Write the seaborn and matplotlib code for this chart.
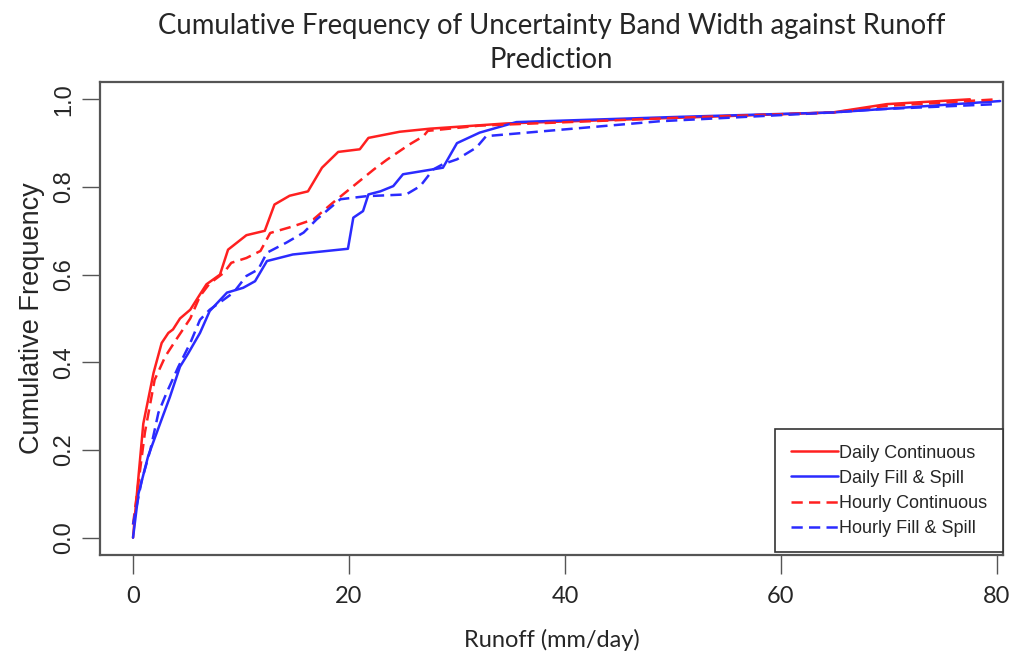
import numpy as np
import pandas as pd
import matplotlib
matplotlib.use("Agg")
import matplotlib.pyplot as plt
import seaborn as sns

# ---- data ----
dc_x = [0, 0.2, 0.95, 1.9, 2.65, 3.27, 3.7, 4.35, 5.3, 6.2, 6.8, 8.05, 8.8, 10.5, 12.2, 13.1, 14.5, 16.2, 17.5, 19.0, 21.0, 21.8, 24.7, 27.5, 34.6, 50.6, 64.8, 69.8, 77.5]
dc_y = [0, 0.057, 0.26, 0.376, 0.444, 0.467, 0.475, 0.50, 0.52, 0.555, 0.578, 0.60, 0.657, 0.69, 0.70, 0.76, 0.78, 0.79, 0.844, 0.88, 0.886, 0.912, 0.926, 0.933, 0.945, 0.958, 0.970, 0.989, 1.0]

dfs_x = [0, 0.5, 1.4, 2.65, 3.4, 4.35, 5.1, 6.2, 7.1, 8.7, 10.2, 11.3, 12.4, 14.8, 19.9, 20.4, 21.3, 21.8, 22.9, 24.1, 25.0, 28.7, 30.0, 32.1, 35.5, 50.6, 64.8, 80.3]
dfs_y = [0, 0.10, 0.186, 0.27, 0.32, 0.39, 0.42, 0.467, 0.517, 0.559, 0.57, 0.585, 0.631, 0.646, 0.659, 0.73, 0.745, 0.783, 0.79, 0.802, 0.829, 0.844, 0.90, 0.924, 0.948, 0.960, 0.970, 0.996]

hc_x = [0, 1.1, 2.0, 3.0, 4.0, 5.3, 6.2, 7.1, 8.4, 9.1, 10.5, 11.8, 12.7, 14.8, 16.7, 18.5, 20.4, 22.3, 23.5, 25.6, 26.9, 27.3, 32.1, 50.6, 64.8, 69.8, 80.0]
hc_y = [0.03, 0.24, 0.36, 0.414, 0.452, 0.50, 0.551, 0.58, 0.604, 0.627, 0.638, 0.654, 0.695, 0.71, 0.726, 0.764, 0.802, 0.84, 0.862, 0.897, 0.916, 0.928, 0.94, 0.958, 0.970, 0.985, 1.0]

hfs_x = [0, 0.8, 1.6, 2.35, 3.1, 4.2, 5.3, 6.2, 7.1, 8.4, 9.3, 10.5, 11.6, 12.4, 14.2, 15.8, 17.0, 19.2, 21.6, 25.3, 26.6, 27.8, 28.7, 30.0, 31.8, 32.7, 48.8, 64.8, 68.8, 80.0]
hfs_y = [0.03, 0.13, 0.20, 0.285, 0.33, 0.39, 0.444, 0.497, 0.52, 0.543, 0.559, 0.597, 0.612, 0.65, 0.673, 0.696, 0.726, 0.772, 0.779, 0.783, 0.802, 0.84, 0.852, 0.863, 0.89, 0.916, 0.95, 0.97, 0.977, 0.989]

series_names = ["Daily Continuous", "Daily Fill & Spill", "Hourly Continuous", "Hourly Fill & Spill"]
x_ticks = [0, 20, 40, 60, 80]
y_ticks = [0.0, 0.2, 0.4, 0.6, 0.8, 1.0]

frames = []
for name, xs, ys in zip(series_names, [dc_x, dfs_x, hc_x, hfs_x], [dc_y, dfs_y, hc_y, hfs_y]):
    frames.append(pd.DataFrame({"Runoff": xs, "Freq": ys, "Series": name}))
df = pd.concat(frames, ignore_index=True)

sns.set_style("white")
plt.rcParams['font.family'] = ['Liberation Sans', 'DejaVu Sans']
narrow = "Lato"

fig = plt.figure(figsize=(10.1, 6.6), dpi=100)
ax = fig.add_axes([0.099, 0.1588, 0.894, 0.7173])

red = "#ff2020"
blue = "#2b2bff"
palette = {series_names[0]: red, series_names[1]: blue, series_names[2]: red, series_names[3]: blue}
dashes = {series_names[0]: "", series_names[1]: "", series_names[2]: (4.5, 2.5), series_names[3]: (4.5, 2.5)}

sns.lineplot(data=df, x="Runoff", y="Freq", hue="Series", style="Series",
             palette=palette, dashes=dashes, sort=False, estimator=None,
             linewidth=1.8, ax=ax, legend=True)

ax.set_xlim(-3.06, 80.56)
ax.set_ylim(-0.04, 1.04)

for s in ax.spines.values():
    s.set_visible(True)
    s.set_color("#555555")
    s.set_linewidth(1.6)

ax.set_xticks(x_ticks)
ax.set_xticklabels([str(t) for t in x_ticks], fontfamily=narrow, fontsize=17)
ax.set_yticks(y_ticks)
ax.set_yticklabels([f"{t:.1f}" for t in y_ticks], rotation=90, va="center", fontsize=17)
ax.tick_params(axis="x", direction="out", length=14, width=1.0, color="#555555", bottom=True, pad=8)
ax.tick_params(axis="y", direction="out", length=13, width=1.0, color="#555555", left=True, pad=5)

ax.set_xlabel("Runoff (mm/day)", fontfamily=narrow, fontsize=17, labelpad=16)
ax.set_ylabel("Cumulative Frequency", fontsize=19.5, labelpad=6)
ax.set_title("Cumulative Frequency of Uncertainty Band Width against Runoff\nPrediction",
             fontfamily=narrow, fontsize=19.8, pad=10, linespacing=1.38)

leg = ax.legend(title=None, loc="lower right", bbox_to_anchor=(1.0, 0.006),
                fontsize=13, frameon=True, fancybox=False, borderaxespad=0,
                handlelength=2.6, handletextpad=0.1, labelspacing=0.45, borderpad=0.85)
leg.get_frame().set_edgecolor("#333333")
leg.get_frame().set_linewidth(1.2)
leg.get_frame().set_alpha(1.0)
leg.set_zorder(6)

fig.savefig("out.png", dpi=100)
